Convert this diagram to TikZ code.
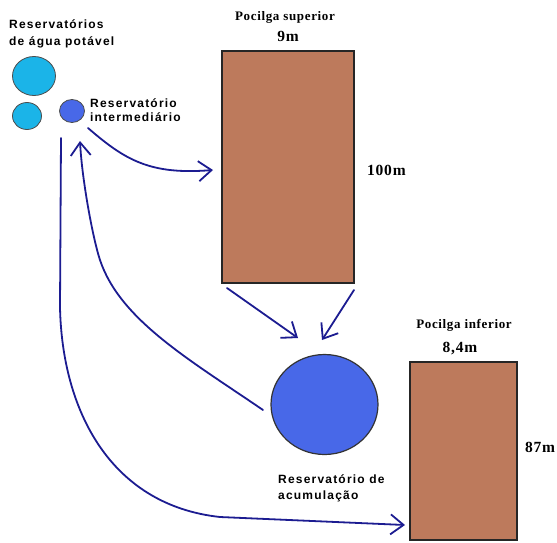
\documentclass[tikz,border=0pt]{standalone}
\usepackage{fontspec}
\setmainfont{Liberation Serif}
\setsansfont{Liberation Sans}
\usetikzlibrary{arrows.meta,shapes.geometric}
\definecolor{pigbrown}{RGB}{189,122,92}
\definecolor{watercyan}{RGB}{27,180,232}
\definecolor{resblue}{RGB}{72,104,232}
\definecolor{flownavy}{RGB}{28,28,145}
\tikzset{
  pen/.style={draw=flownavy, line width=1.8pt, line cap=round, line join=round},
  flow/.style={pen, -{Straight Barb[length=13pt,width=20pt,line width=1.8pt]}},
  pigpen/.style={rectangle, draw=black!85, line width=1.3pt, fill=pigbrown, inner sep=0pt},
  tank/.style={ellipse, draw=black!70, line width=0.8pt, inner sep=0pt},
  sanslbl/.style={font=\sffamily\bfseries\fontsize{12}{17}\selectfont\addfontfeature{LetterSpace=10}, align=left, inner sep=0pt},
  seriflbl/.style={font=\bfseries\fontsize{13}{15}\selectfont\addfontfeature{LetterSpace=5}, inner sep=0pt},
  numlbl/.style={font=\bfseries\fontsize{15.5}{17}\selectfont\addfontfeature{LetterSpace=5}, inner sep=0pt}
}
\begin{document}
\begin{tikzpicture}[x=1pt,y=-1pt]
\useasboundingbox (0,0) rectangle (557,542);
\fill[white] (0,0) rectangle (557,542);

% pig pens
\node[pigpen, minimum width=132pt, minimum height=232pt] (ps) at (288,167) {};
\node[pigpen, minimum width=107pt, minimum height=178pt] (pi) at (463.5,451) {};

% tanks
\node[tank, fill=watercyan, minimum width=43pt, minimum height=39pt] (w1) at (34,76) {};
\node[tank, fill=watercyan, minimum width=29pt, minimum height=27pt] (w2) at (27,116) {};
\node[tank, fill=resblue, minimum width=25pt, minimum height=23pt] (ri) at (72,111) {};
\node[tank, draw=black!80, line width=1.2pt, fill=resblue, minimum width=107pt, minimum height=100pt] (ra) at (324.5,404.5) {};

% labels (base anchor = baseline of the last line)
\node[sanslbl, anchor=base west] (lw) at (9,45) {Reservatórios\\de água potável};
\node[sanslbl, anchor=base west, font=\sffamily\bfseries\fontsize{12}{14}\selectfont\addfontfeature{LetterSpace=10}] (lri) at (90,121) {Reservatório\\intermediário};
\node[sanslbl, anchor=base west, font=\sffamily\bfseries\fontsize{12}{16}\selectfont\addfontfeature{LetterSpace=10}] (lra) at (278,499) {Reservatório de\\acumulação};
\node[seriflbl, anchor=base] (lps) at (285,20) {Pocilga superior};
\node[numlbl, anchor=base] (w9) at (288,41) {9m};
\node[numlbl, anchor=base west] (h100) at (367,175) {100m};
\node[seriflbl, anchor=base] (lpi) at (464,328) {Pocilga inferior};
\node[numlbl, anchor=base] (w84) at (460,352) {8,4m};
\node[numlbl, anchor=base west] (h87) at (525,452) {87m};

% connector end points
\coordinate (c1s) at (88,128);
\coordinate (c1e) at (213,170);
\coordinate (c2s) at (263,410);
\coordinate (c2e) at (80,141);
\coordinate (c3s) at (61,138);
\coordinate (c3e) at (405,525);
\coordinate (c4s) at (227,288);
\coordinate (c4e) at (298,338);
\coordinate (c5s) at (354,290);
\coordinate (c5e) at (322,340);

% flows
\draw[flow] (c1s) .. controls (125,160) and (150,175) .. (c1e);
\draw[flow] (c2s) .. controls (190,360) and (120,320) .. (100,260)
                  .. controls (93,239) and (82,180) .. (c2e);
\draw[flow] (c3s) -- (60,307) .. controls (62,410) and (110,505) .. (220,517) -- (c3e);
\draw[flow] (c4s) -- (c4e);
\draw[flow] (c5s) -- (c5e);
\end{tikzpicture}
\end{document}
